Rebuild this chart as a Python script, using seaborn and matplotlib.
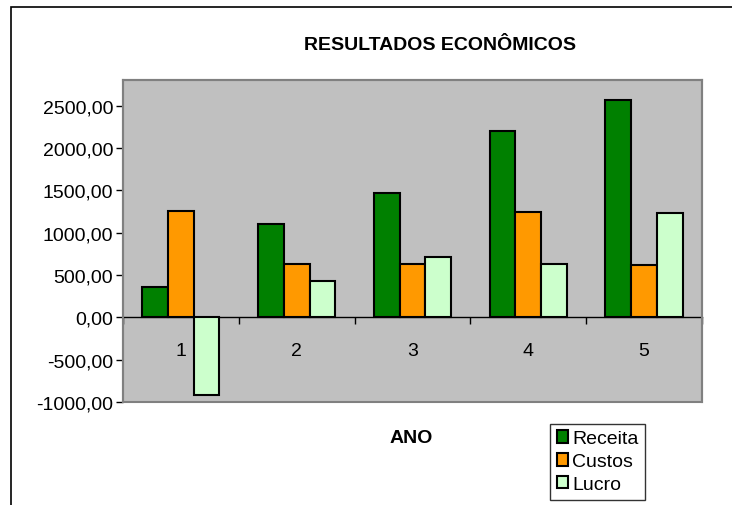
import pandas as pd
import numpy as np
import matplotlib
matplotlib.use('Agg')
import matplotlib.pyplot as plt
import seaborn as sns
from matplotlib.ticker import FuncFormatter, FixedLocator
from matplotlib.patches import Rectangle

# Dados
anos = ['1', '2', '3', '4', '5']
receita = [360, 1100, 1470, 2205, 2570]
custos = [1250, 625, 625, 1240, 620]
lucro = [-920, 430, 715, 630, 1230]
series = ['Receita', 'Custos', 'Lucro']
cores = ['#008000', '#FF9900', '#CCFFCC']
y_ticks = [-1000, -500, 0, 500, 1000, 1500, 2000, 2500]

df = pd.DataFrame({'Ano': anos * 3,
                   'Serie': np.repeat(series, len(anos)),
                   'Valor': receita + custos + lucro})

sns.set_style('white')
plt.rcParams['font.family'] = ['Liberation Sans', 'DejaVu Sans']
plt.rcParams['text.color'] = 'black'
plt.rcParams['xtick.color'] = 'black'
plt.rcParams['ytick.color'] = 'black'

fig = plt.figure(figsize=(7.32, 5.06), dpi=100)
ax = fig.add_axes([0.168, 0.2036, 0.791, 0.636])
ax.set_facecolor('#C0C0C0')

sns.barplot(data=df, x='Ano', y='Valor', hue='Serie', palette=cores,
            saturation=1, edgecolor='black', linewidth=1.5, width=0.667, gap=0,
            ax=ax, zorder=3)

ax.set_ylim(-1000, 2800)
ax.set_xlim(-0.5, 4.5)
ax.yaxis.set_major_locator(FixedLocator(y_ticks))
ax.yaxis.set_major_formatter(FuncFormatter(lambda v, p: f'{v:.2f}'.replace('.', ',')))
ax.tick_params(axis='y', labelsize=14, length=5, width=1, color='black',
               labelcolor='black', pad=2, left=True)

# eixo x sobre o zero
ax.spines['bottom'].set_position(('data', 0))
ax.spines['bottom'].set_color('black')
ax.spines['bottom'].set_linewidth(1)
for s in ['top', 'right', 'left']:
    ax.spines[s].set_color('#808080')
    ax.spines[s].set_linewidth(1.5)
ax.add_patch(Rectangle((0, 0), 1, 1, transform=ax.transAxes, fill=False,
                       edgecolor='#808080', linewidth=1.5, zorder=5, clip_on=False))

ax.set_xticks(np.arange(-0.5, 5, 1))
ax.set_xticklabels([])
ax.set_xticks(np.arange(len(anos)), minor=True)
ax.set_xticklabels(anos, minor=True)
ax.tick_params(axis='x', which='major', length=5, width=1, color='black', bottom=True)
ax.tick_params(axis='x', which='minor', length=0, labelsize=14, labelcolor='black', pad=18)
ax.set_xlabel('')
ax.set_ylabel('')

handles, labels = ax.get_legend_handles_labels()
ax.get_legend().remove()
leg = ax.legend(handles, labels, loc='upper left', bbox_to_anchor=(0.751, 0.161),
                bbox_transform=fig.transFigure, frameon=True, fancybox=False,
                edgecolor='black', fontsize=14, handlelength=0.6, handleheight=0.6,
                handletextpad=0.2, borderpad=0.35, labelspacing=0.3, borderaxespad=0)
leg.get_frame().set_linewidth(1)
for t in leg.get_texts():
    t.set_color('black')

fig.text(0.601, 0.911, 'RESULTADOS ECONÔMICOS', ha='center', va='center',
         fontsize=14, fontweight='bold', color='black')
fig.text(0.562, 0.134, 'ANO', ha='center', va='center', fontsize=14,
         fontweight='bold', color='black')

# moldura externa
fig.add_artist(Rectangle((11 / 732, -0.05), 1.1, 1 - 8 / 506 + 0.05,
                         transform=fig.transFigure, fill=False,
                         edgecolor='black', linewidth=1.2))

plt.savefig('out.png', dpi=100)
plt.close()
